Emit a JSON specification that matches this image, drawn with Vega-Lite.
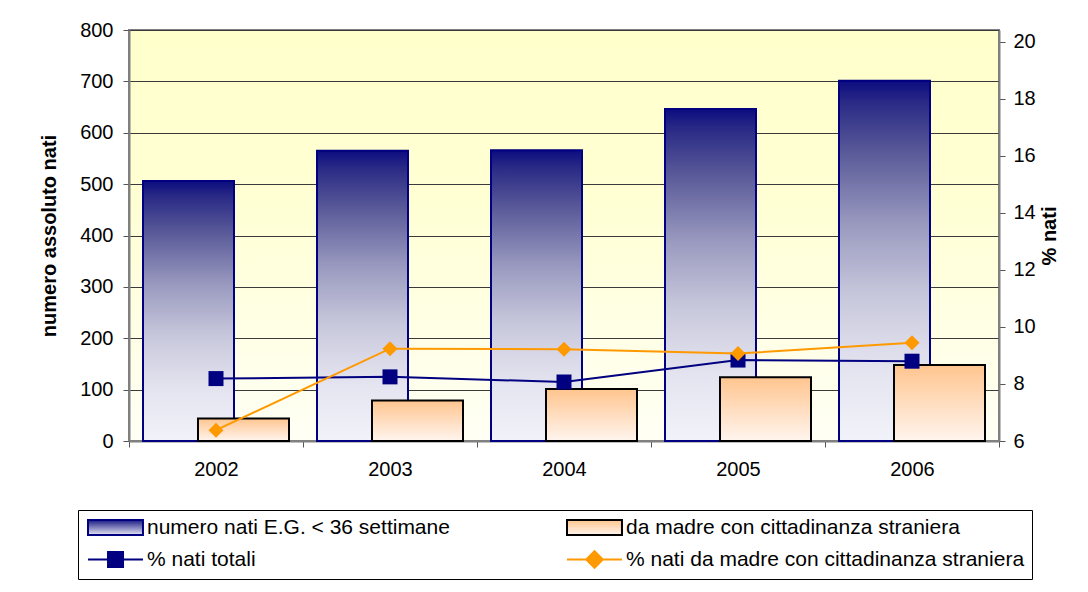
{
  "$schema": "https://vega.github.io/schema/vega-lite/v6.json",
  "width": 870,
  "height": 411,
  "autosize": {"type": "none"},
  "padding": {"left": 129, "top": 30, "right": 89, "bottom": 151},
  "background": "white",
  "config": {
    "font": "Liberation Sans",
    "view": {
      "stroke": "#808080",
      "strokeWidth": 2,
      "fill": {"gradient": "linear", "x1": 0, "y1": 0, "x2": 0, "y2": 1, "stops": [{"offset": 0, "color": "#FFFFCC"}, {"offset": 0.4, "color": "#FFFFD3"}, {"offset": 1, "color": "#FFFFF5"}]}
    },
    "axis": {
      "labelFont": "Liberation Sans",
      "labelFontSize": 20,
      "labelColor": "#000000",
      "titleFont": "Liberation Sans",
      "titleFontSize": 20,
      "titleFontWeight": "bold",
      "titleColor": "#000000",
      "domainColor": "#808080",
      "domainWidth": 2,
      "tickColor": "#555555",
      "tickWidth": 1,
      "tickSize": 6
    },
    "legend": {
      "labelFont": "Liberation Sans",
      "labelFontSize": 21,
      "labelColor": "#000000",
      "labelLimit": 500
    }
  },
  "data": {
    "values": [
      {"anno": "2002", "numero": 506, "stranieri": 44, "pct_tot": 8.19, "pct_str": 6.38},
      {"anno": "2003", "numero": 565, "stranieri": 79, "pct_tot": 8.25, "pct_str": 9.24},
      {"anno": "2004", "numero": 566, "stranieri": 101, "pct_tot": 8.07, "pct_str": 9.22},
      {"anno": "2005", "numero": 646, "stranieri": 124, "pct_tot": 8.84, "pct_str": 9.07},
      {"anno": "2006", "numero": 701, "stranieri": 148, "pct_tot": 8.8, "pct_str": 9.45}
    ]
  },
  "encoding": {
    "x": {
      "field": "anno",
      "type": "ordinal",
      "scale": {"paddingInner": 0, "paddingOuter": 0},
      "axis": {"title": null, "labelAngle": 0, "tickBand": "extent", "labelPadding": 12, "tickSize": 6}
    }
  },
  "layer": [
    {
      "transform": [{"filter": "false"}],
      "mark": {"type": "line", "strokeWidth": 2},
      "encoding": {
        "y": {"field": "pct_tot", "type": "quantitative", "scale": {"domain": [6, 20.42], "nice": false, "zero": false}, "axis": null},
        "stroke": {
          "datum": "numero nati E.G. < 36 settimane",
          "type": "nominal",
          "scale": {
            "domain": ["numero nati E.G. < 36 settimane", "% nati totali", "da madre con cittadinanza straniera", "% nati da madre con cittadinanza straniera"],
            "range": ["#000080", "#000080", "#000000", "#FF9900"]
          },
          "legend": {
            "title": null,
            "orient": "none",
            "legendX": -51,
            "legendY": 480,
            "columns": 2,
            "columnPadding": 113,
            "rowPadding": 8,
            "padding": 7,
            "strokeColor": "#000000",
            "fillColor": "#FFFFFF",
            "symbolSize": 225,
            "symbolStrokeWidth": 2,
            "symbolOpacity": 1,
            "labelOffset": 41,
            "symbolType": {"expr": "datum.value === '% nati totali' ? 'M-1,0H6.33M1.67,-1H3.67V1H1.67Z' : datum.value === '% nati da madre con cittadinanza straniera' ? 'M-1,0H6.33M2.67,-1.1L3.77,0L2.67,1.1L1.57,0Z' : 'M-1,-1H6.33V1H-1Z'"},
            "symbolFillColor": {"expr": "datum.value === 'numero nati E.G. < 36 settimane' ? {gradient: 'linear', x1: 0, y1: 0, x2: 0, y2: 1, stops: [{offset: 0, color: '#1A1A85'}, {offset: 1, color: '#E8E8F4'}]} : datum.value === 'da madre con cittadinanza straniera' ? {gradient: 'linear', x1: 0, y1: 0, x2: 0, y2: 1, stops: [{offset: 0, color: '#FFC58E'}, {offset: 1, color: '#FFF5EE'}]} : datum.value === '% nati totali' ? '#000080' : '#FF9900'"}
          }
        }
      }
    },
    {
      "layer": [
        {
          "mark": {
            "type": "bar",
            "width": {"band": 0.523},
            "xOffset": -27.5,
            "strokeWidth": 2,
            "fill": {"gradient": "linear", "x1": 0, "y1": 0, "x2": 0, "y2": 1, "stops": [{"offset": 0, "color": "#0C0C80"}, {"offset": 0.06, "color": "#2A2A86"}, {"offset": 0.2, "color": "#5A5A99"}, {"offset": 0.4, "color": "#9A9AC0"}, {"offset": 0.6, "color": "#C8C8DC"}, {"offset": 0.8, "color": "#E4E4F0"}, {"offset": 1, "color": "#F2F2FA"}]}
          },
          "encoding": {
            "y": {
              "field": "numero",
              "type": "quantitative",
              "scale": {"domain": [0, 800], "nice": false},
              "axis": {
                "orient": "left",
                "title": "numero assoluto nati",
                "values": [0, 100, 200, 300, 400, 500, 600, 700, 800],
                "grid": true,
                "gridColor": "#3a3a3a",
                "gridWidth": 1,
                "labelPadding": 10,
                "titlePadding": 20
              }
            },
            "stroke": {"datum": "numero nati E.G. < 36 settimane", "type": "nominal", "legend": null}
          }
        },
        {
          "mark": {
            "type": "bar",
            "width": {"band": 0.523},
            "xOffset": 27.5,
            "strokeWidth": 2,
            "fill": {"gradient": "linear", "x1": 0, "y1": 0, "x2": 0, "y2": 1, "stops": [{"offset": 0, "color": "#FFC58E"}, {"offset": 0.5, "color": "#FFDDBF"}, {"offset": 1, "color": "#FFF5EE"}]}
          },
          "encoding": {
            "y": {"field": "stranieri", "type": "quantitative", "axis": {"title": "numero assoluto nati"}},
            "stroke": {"datum": "da madre con cittadinanza straniera", "type": "nominal", "legend": null}
          }
        }
      ]
    },
    {
      "layer": [
        {
          "mark": {"type": "line", "strokeWidth": 2},
          "encoding": {
            "y": {
              "field": "pct_tot",
              "type": "quantitative",
              "scale": {"domain": [6, 20.42], "nice": false, "zero": false},
              "axis": {
                "orient": "right",
                "title": "% nati",
                "values": [6, 8, 10, 12, 14, 16, 18, 20],
                "grid": false,
                "labelPadding": 8,
                "titlePadding": 4,
                "titleAngle": 270,
                "titleBaseline": "top"
              }
            },
            "stroke": {"datum": "% nati totali", "type": "nominal", "legend": null}
          }
        },
        {
          "mark": {"type": "point", "shape": "square", "size": 225, "filled": true, "fill": "#000080", "opacity": 1, "strokeWidth": 0},
          "encoding": {"y": {"field": "pct_tot", "type": "quantitative", "axis": {"title": "% nati"}}}
        },
        {
          "mark": {"type": "line", "strokeWidth": 2},
          "encoding": {
            "y": {"field": "pct_str", "type": "quantitative", "axis": {"title": "% nati"}},
            "stroke": {"datum": "% nati da madre con cittadinanza straniera", "type": "nominal", "legend": null}
          }
        },
        {
          "mark": {"type": "point", "shape": "diamond", "size": 225, "filled": true, "fill": "#FF9900", "opacity": 1, "strokeWidth": 0},
          "encoding": {"y": {"field": "pct_str", "type": "quantitative", "axis": {"title": "% nati"}}}
        }
      ]
    }
  ],
  "resolve": {"scale": {"y": "independent"}}
}
